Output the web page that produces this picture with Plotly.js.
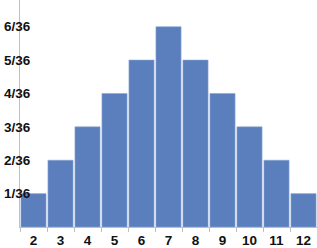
<!DOCTYPE html>
<html><head><meta charset="utf-8">
<script src="https://cdn.plot.ly/plotly-3.0.1.min.js"></script>
<style>html,body{margin:0;padding:0;background:#fff}#chart{width:317px;height:248px}</style>
</head><body><div id="chart"></div>
<script>
const sums = ['2','3','4','5','6','7','8','9','10','11','12'];
const ways = [1,2,3,4,5,6,5,4,3,2,1]; // outcomes out of 36
const yTickVals = [1,2,3,4,5,6];
const yTickText = ['1/36','2/36','3/36','4/36','5/36','6/36'];

Plotly.newPlot('chart', [{
  type: 'bar', x: sums, y: ways,
  marker: {color: '#5b7fbd', line: {color: '#8aa5d3', width: 0.6}},
  hoverinfo: 'none'
}], {
  width: 317, height: 248,
  margin: {l: 20, r: 0, t: 0, b: 21},
  bargap: 0.07,
  paper_bgcolor: '#fff', plot_bgcolor: '#fff',
  font: {family: 'Liberation Sans, Arial, sans-serif', size: 13.5, color: '#111', weight: 'bold'},
  xaxis: {type: 'category', range: [-0.5, 10.5], showline: true, linecolor: '#bfbfbf', linewidth: 1,
          ticks: 'outside', tickson: 'boundaries', ticklen: 4, tickcolor: '#bfbfbf', showgrid: false,
          ticklabelstandoff: 1, tickfont: {size: 13.5, weight: 'bold'}},
  yaxis: {range: [0, 6.8], showline: true, linecolor: '#bfbfbf', linewidth: 1, showgrid: false, zeroline: false,
          tickvals: yTickVals, ticktext: yTickText, ticks: '', ticklabelstandoff: -14,
          tickfont: {size: 13.5, weight: 'bold'}}
}, {staticPlot: true});
</script></body></html>
